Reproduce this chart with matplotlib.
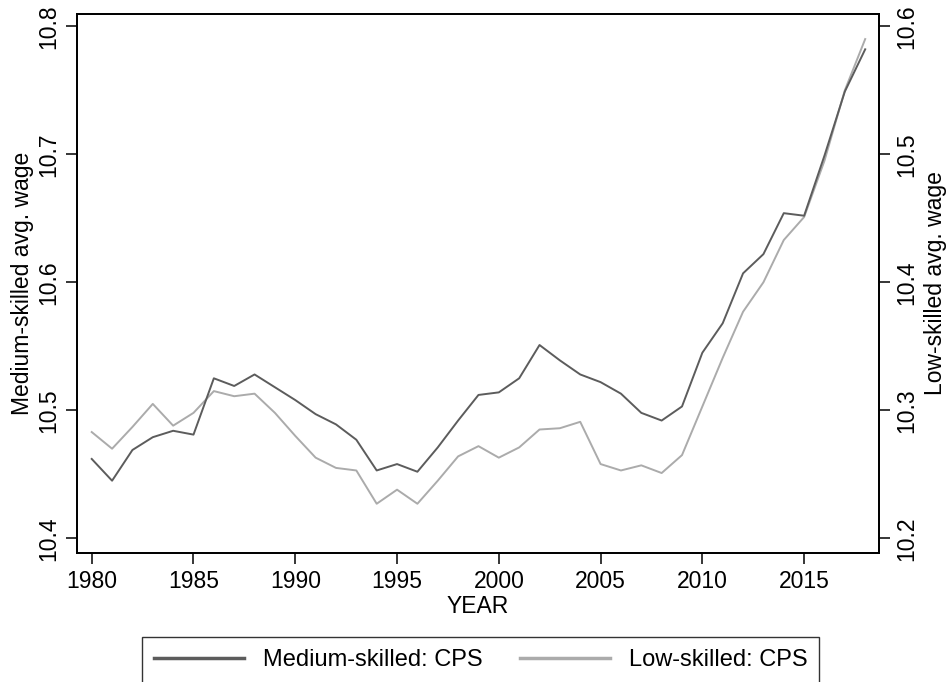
import matplotlib
matplotlib.use("Agg")
import matplotlib.pyplot as plt

# Values
years = list(range(1980, 2019))
medium_cps = [10.462, 10.445, 10.469, 10.479, 10.484, 10.481, 10.525, 10.519, 10.528, 10.518,
              10.508, 10.497, 10.489, 10.477, 10.453, 10.458, 10.452, 10.471, 10.492, 10.512,
              10.514, 10.525, 10.551, 10.539, 10.528, 10.522, 10.513, 10.498, 10.492, 10.503,
              10.545, 10.568, 10.607, 10.622, 10.654, 10.652, 10.699, 10.749, 10.782]
low_cps = [10.283, 10.270, 10.287, 10.305, 10.288, 10.298, 10.315, 10.311, 10.313, 10.298,
           10.280, 10.263, 10.255, 10.253, 10.227, 10.238, 10.227, 10.245, 10.264, 10.272,
           10.263, 10.271, 10.285, 10.286, 10.291, 10.258, 10.253, 10.257, 10.251, 10.265,
           10.303, 10.341, 10.377, 10.400, 10.433, 10.451, 10.495, 10.550, 10.590]
x_ticks = [1980, 1985, 1990, 1995, 2000, 2005, 2010, 2015]
left_ticks = [10.4, 10.5, 10.6, 10.7, 10.8]
right_ticks = [10.2, 10.3, 10.4, 10.5, 10.6]

plt.rcParams['font.family'] = ['Liberation Sans', 'DejaVu Sans']
fs = 16.5

fig = plt.figure(figsize=(9.5, 6.82), dpi=100)
ax = fig.add_axes([0.0807, 0.1891, 0.8446, 0.7904])
ax2 = ax.twinx()

l1, = ax.plot(years, medium_cps, color='#5c5c5c', lw=1.4, label='Medium-skilled: CPS')
l2, = ax2.plot(years, low_cps, color='#ababab', lw=1.4, label='Low-skilled: CPS')
ax.set_zorder(ax2.get_zorder() + 1)
ax.patch.set_visible(False)

ax.set_xlim(1979.26, 2018.68)
ax.set_ylim(10.3885, 10.8096)
ax2.set_ylim(10.1885, 10.6096)

ax.set_xticks(x_ticks)
ax.set_yticks(left_ticks)
ax2.set_yticks(right_ticks)
ax.set_yticklabels([f"{v:.1f}" for v in left_ticks], rotation=90, va='center')
ax2.set_yticklabels([f"{v:.1f}" for v in right_ticks], rotation=90, va='center')

for a in (ax, ax2):
    a.tick_params(labelsize=fs, length=8, width=1.1, direction='out', pad=4)
    for s in a.spines.values():
        s.set_linewidth(1.3)

ax.set_xlabel("YEAR", fontsize=fs, labelpad=2)
ax.set_ylabel("Medium-skilled avg. wage", fontsize=fs, labelpad=2)
ax2.set_ylabel("Low-skilled avg. wage", fontsize=fs, labelpad=4)

leg = fig.legend(handles=[l1, l2], loc='upper center', bbox_to_anchor=(0.506, 1 - 637 / 682),
                 ncol=2, fontsize=17, frameon=True, fancybox=False, edgecolor='black',
                 handlelength=3.8, columnspacing=1.6, borderpad=0.5, handletextpad=0.8,
                 borderaxespad=0)
leg.get_frame().set_linewidth(1.0)
for line in leg.get_lines():
    line.set_linewidth(2.5)

fig.savefig("out.png", dpi=100)
